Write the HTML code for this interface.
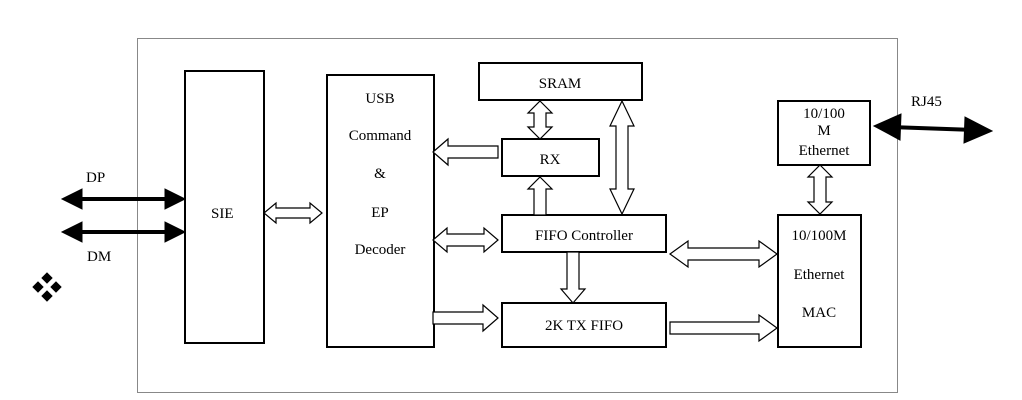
<!DOCTYPE html>
<html><head><meta charset="utf-8"><style>
html,body{margin:0;padding:0;background:#fff;}
svg{display:block;}
text{font-family:"Liberation Serif",serif;font-size:15px;fill:#000;}
</style></head><body>
<svg width="1022" height="400" viewBox="0 0 1022 400" xmlns="http://www.w3.org/2000/svg">
<rect x="137.5" y="38.5" width="760" height="354" fill="none" stroke="#888" stroke-width="1"/>
<g fill="#fff" stroke="#000" stroke-width="2">
<rect x="185" y="71" width="79" height="272"/>
<rect x="327" y="75" width="107" height="272"/>
<rect x="479" y="63" width="163" height="37"/>
<rect x="502" y="139" width="97" height="37"/>
<rect x="502" y="215" width="164" height="37"/>
<rect x="502" y="303" width="164" height="44"/>
<rect x="778" y="101" width="92" height="64"/>
<rect x="778" y="215" width="83" height="132"/>
</g>
<g fill="#fff" stroke="#000" stroke-width="1.2">
<polygon points="264,213 276,203 276,208 310,208 310,203 322,213 310,223 310,218 276,218 276,223"/>
<polygon points="433,152 448,139 448,146 498,146 498,158 448,158 448,165"/>
<polygon points="433,240 447,228 447,234 484,234 484,228 498,240 484,252 484,246 447,246 447,252"/>
<polygon points="433,312 483,312 483,305 498,318 483,331 483,324 433,324"/>
<polygon points="670,254 688,241 688,248 759,248 759,241 777,254 759,267 759,260 688,260 688,267"/>
<polygon points="670,322 759,322 759,315 777,328 759,341 759,334 670,334"/>
<polygon points="540,101 552,113 546,113 546,127 552,127 540,139 528,127 534,127 534,113 528,113"/>
<polygon points="540,177 552,189 546,189 546,215 534,215 534,189 528,189"/>
<polygon points="622,101 634,126 628,126 628,189 634,189 622,214 610,189 616,189 616,126 610,126"/>
<polygon points="567,252 579,252 579,289 585,289 573,303 561,289 567,289"/>
<polygon points="820,165 832,177 826,177 826,202 832,202 820,214 808,202 814,202 814,177 808,177"/>
</g>
<g fill="#000" stroke="#000">
<line x1="75" y1="199" x2="170" y2="199" stroke-width="4"/>
<polygon points="62,199 82,189 82,209"/><polygon points="185,199 165,189 165,209"/>
<line x1="75" y1="232" x2="170" y2="232" stroke-width="4"/>
<polygon points="62,232 82,222 82,242"/><polygon points="185,232 165,222 165,242"/>
<line x1="890" y1="127" x2="975" y2="130" stroke-width="4"/>
<polygon points="874,126 901,114 900,140"/><polygon points="992,131 964,143 965,117"/>
<polygon points="47,273 52,278 47,283 42,278"/><polygon points="38,282 43,287 38,292 33,287"/><polygon points="56,282 61,287 56,292 51,287"/><polygon points="47,291 52,296 47,301 42,296"/>
</g>
<text x="86" y="182">DP</text>
<text x="87" y="261">DM</text>
<text x="911" y="106">RJ45</text>
<text x="211" y="218">SIE</text>
<g text-anchor="middle">
<text x="380" y="103">USB</text>
<text x="380" y="140">Command</text>
<text x="380" y="178">&amp;</text>
<text x="380" y="217">EP</text>
<text x="380" y="254">Decoder</text>
<text x="560" y="88">SRAM</text>
<text x="550" y="164">RX</text>
<text x="584" y="240">FIFO Controller</text>
<text x="584" y="330">2K TX FIFO</text>
<text x="824" y="118">10/100</text>
<text x="824" y="135">M</text>
<text x="824" y="155">Ethernet</text>
<text x="819" y="240">10/100M</text>
<text x="819" y="279">Ethernet</text>
<text x="819" y="317">MAC</text>
</g>
</svg>
</body></html>
